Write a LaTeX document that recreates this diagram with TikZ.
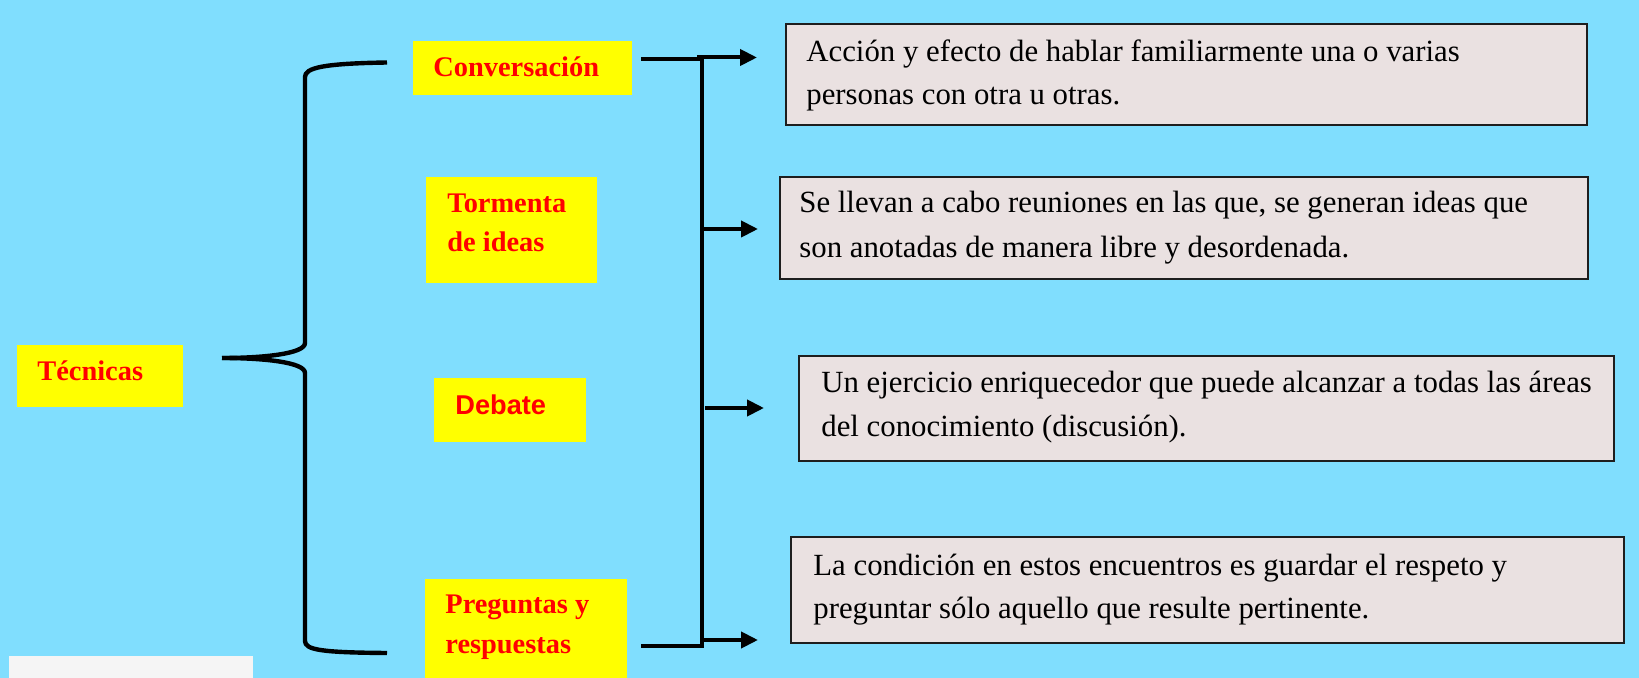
\documentclass[tikz,border=0pt]{standalone}
\usepackage{fontspec}
\setmainfont{Liberation Serif}
\newfontfamily\lsans{Liberation Sans}
\usetikzlibrary{arrows.meta}
\definecolor{bg}{RGB}{128,222,254}
\definecolor{boxfill}{RGB}{234,225,225}
\definecolor{boxline}{RGB}{30,30,30}
\definecolor{ylw}{RGB}{255,255,0}
\definecolor{lblred}{RGB}{255,0,0}
\definecolor{offwhite}{RGB}{245,245,245}
\tikzset{
  ybox/.style={fill=ylw, draw=none, inner sep=0pt},
  lbl/.style={text=lblred, font=\fontsize{14.2}{17}\selectfont\bfseries, anchor=base west, inner sep=0pt},
  slbl/.style={text=lblred, font=\lsans\fontsize{13.6}{17}\selectfont\bfseries, anchor=base west, inner sep=0pt},
  dbox/.style={fill=boxfill, draw=boxline, line width=1pt, inner sep=0pt},
  dtxt/.style={font=\fontsize{15.4}{18}\selectfont, anchor=base west, inner sep=0pt},
  conn/.style={line width=2pt, line cap=rect},
  arr/.style={line width=2pt, -{Triangle[length=8.5pt,width=8pt]}},
  bracestyle/.style={line width=2.2pt, line join=round}
}
\begin{document}
\begin{tikzpicture}[x=0.5pt,y=-0.5pt]
\useasboundingbox (0,0) rectangle (1639,678);
\fill[bg] (0,0) rectangle (1639,678);
\fill[offwhite] (9,656) rectangle (253,678);

% yellow label boxes
\node[ybox, minimum width=83pt, minimum height=31pt] (tec) at (100,376) {};
\node[lbl] (tect) at (37,381) {Técnicas};
\node[ybox, minimum width=109.5pt, minimum height=27pt] (conv) at (522.5,68) {};
\node[lbl] (convt) at (433,77) {Conversación};
\node[ybox, minimum width=85.5pt, minimum height=53pt] (torm) at (511.5,230) {};
\node[lbl] (tormt1) at (447,213) {Tormenta};
\node[lbl] (tormt2) at (447,252) {de ideas};
\node[ybox, minimum width=76pt, minimum height=32pt] (deb) at (510,410) {};
\node[slbl] (debt) at (455,415) {Debate};
\node[ybox, minimum width=101pt, minimum height=49.5pt] (preg) at (526,628.5) {};
\node[lbl] (pregt1) at (445,613) {Preguntas y};
\node[lbl] (pregt2) at (445,653) {respuestas};

% description boxes
\node[dbox, minimum width=400.5pt, minimum height=50.5pt] (d1) at (1186.5,74.5) {};
\node[dtxt] (d1a) at (806,62) {Acción y efecto de hablar familiarmente una o varias};
\node[dtxt] (d1b) at (806,105) {personas con otra u otras.};
\node[dbox, minimum width=404pt, minimum height=51pt] (d2) at (1184,228) {};
\node[dtxt] (d2a) at (799,213) {Se llevan a cabo reuniones en las que, se generan ideas que};
\node[dtxt] (d2b) at (799,258) {son anotadas de manera libre y desordenada.};
\node[dbox, minimum width=407.5pt, minimum height=52.5pt] (d3) at (1206.5,408.5) {};
\node[dtxt] (d3a) at (821,393) {Un ejercicio enriquecedor que puede alcanzar a todas las áreas};
\node[dtxt] (d3b) at (821,437) {del conocimiento (discusión).};
\node[dbox, minimum width=416.5pt, minimum height=53pt] (d4) at (1207.5,590) {};
\node[dtxt] (d4a) at (813,575) {La condición en estos encuentros es guardar el respeto y};
\node[dtxt] (d4b) at (813,618) {preguntar sólo aquello que resulte pertinente.};

% brace
\coordinate (bt) at (387,62.5);
\coordinate (btip) at (222,358);
\coordinate (bb) at (387,653);
\draw[bracestyle] (bt) .. controls (322,63.5) and (305,68) .. (305,77)
  -- (305,343) .. controls (305,354) and (262,358) .. (btip);
\draw[bracestyle] (btip) .. controls (262,358) and (305,362) .. (305,373)
  -- (305,641) .. controls (305,650) and (322,652.5) .. (bb);

% bus lines
\coordinate (c1) at (643,59);
\coordinate (bus1) at (702,59);
\coordinate (bus2) at (702,646);
\coordinate (c4) at (643,646);
\draw[conn] (c1) -- (bus1);
\draw[conn] (bus1) -- (bus2);
\draw[conn] (c4) -- (bus2);

% arrows
\coordinate (s1) at (697,57.5); \coordinate (e1) at (757,57.5);
\coordinate (s2) at (702,229);  \coordinate (e2) at (758,229);
\coordinate (s3) at (705,408);  \coordinate (e3) at (764,408);
\coordinate (s4) at (702,640);  \coordinate (e4) at (758,640);
\draw[arr] (s1) -- (e1);
\draw[arr] (s2) -- (e2);
\draw[arr] (s3) -- (e3);
\draw[arr] (s4) -- (e4);
\end{tikzpicture}
\end{document}
